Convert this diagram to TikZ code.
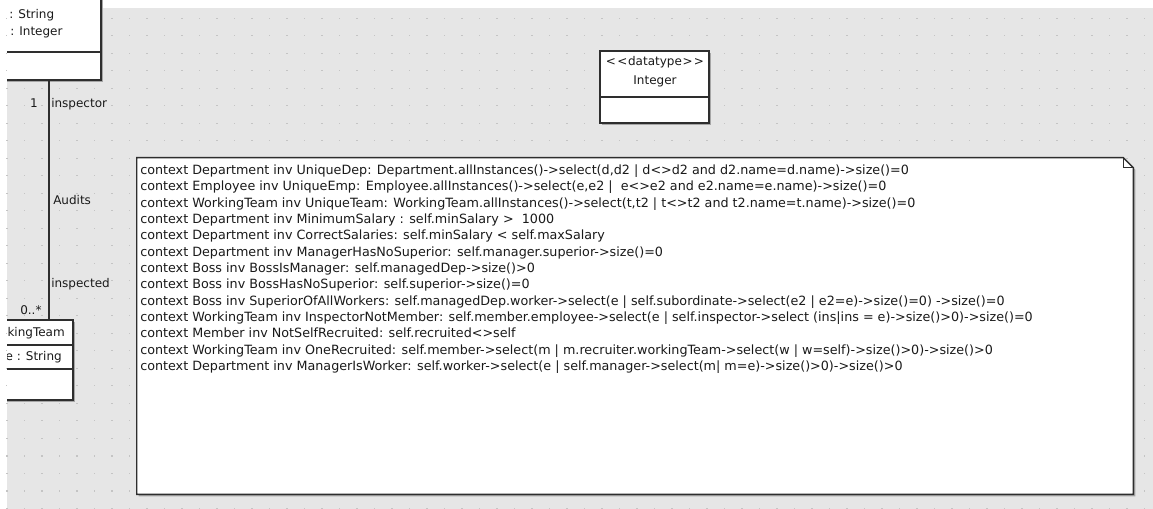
\documentclass[tikz,border=0pt]{standalone}
\usepackage{fontspec}
\newfontfamily\umlfont{DejaVu Sans}
\usetikzlibrary{fit,calc}
\definecolor{canvas}{HTML}{E6E6E6}
\definecolor{griddot}{HTML}{C4C4C4}
\definecolor{edgecol}{HTML}{2E2E2E}
\definecolor{shade}{HTML}{A6A6A6}
\definecolor{inkcol}{HTML}{1A1A1A}
\begin{document}
\begin{tikzpicture}[x=0.75pt,y=-0.75pt,
  font=\umlfont\fontsize{9}{11}\selectfont,
  every node/.style={text=inkcol},
  umlbox/.style={draw=edgecol,line width=1.1pt,fill=white,inner sep=0pt},
  shadowbox/.style={fill=shade},
  lbl/.style={inner sep=0pt},
  oclline/.style={inner sep=0pt,anchor=base west,font=\umlfont\fontsize{9.55}{11}\selectfont}]
\useasboundingbox (0,0) rectangle (1153,509);
\fill[white] (0,0) rectangle (1153,509);
\fill[canvas] (7,8) rectangle (1153,509);
\foreach \i in {0,...,65}{
  \foreach \j in {0,...,28}{
    \fill[griddot] ({6.8+17.5*\i-0.7},{18.3+17.5*\j-0.7}) rectangle ++(1.4,1.4);
  }
}
\begin{scope}
\clip (7,0) rectangle (1153,509);
% class cut off at top-left
\fill[shadowbox] (-18,-18) rectangle (103,82);
\node[umlbox,fit={(-20,-20) (101,80)}] (dept) {};
\draw[edgecol,line width=0.9pt] (dept.west |- 0,52) -- (dept.east |- 0,52);
\node[lbl,anchor=base west] (deptattA) at (9,19) {: String};
\node[lbl,anchor=base west] (deptattB) at (10,36) {: Integer};
% WorkingTeam class cut off at left
\fill[shadowbox] (-18,322) rectangle (75,402);
\node[umlbox,fit={(-20,320) (73,400)}] (team) {};
\draw[edgecol,line width=0.9pt] (team.west |- 0,345) -- (team.east |- 0,345);
\draw[edgecol,line width=0.9pt] (team.west |- 0,369) -- (team.east |- 0,369);
\node[lbl,anchor=base east] (teamname) at (65,337) {kingTeam};
\node[lbl,anchor=base east] (teamatt) at (62,361) {e : String};
% association
\coordinate (assocx) at (49,0);
\draw[edgecol,line width=0.9pt] (assocx |- dept.south) -- (assocx |- team.north);
\node[lbl,anchor=base] (multA) at (34,108) {1};
\node[lbl,anchor=base west] (roleA) at (51,108) {inspector};
\node[lbl,anchor=base west] (assocname) at (53,205) {Audits};
\node[lbl,anchor=base west] (roleB) at (51,288) {inspected};
\node[lbl,anchor=base west] (multB) at (20,315) {0..*};
\end{scope}
% Integer datatype
\fill[shadowbox] (602,53) rectangle (711,125);
\node[umlbox,fit={(600,51) (709,123)}] (intbox) {};
\draw[edgecol,line width=0.9pt] (intbox.west |- 0,97) -- (intbox.east |- 0,97);
\node[lbl,anchor=base] (intster) at (655,66) {<\kern1pt<\kern0.5pt datatype\kern0.5pt>\kern1pt>};
\node[lbl,anchor=base] (intname) at (655,85) {Integer};
% OCL note
\node[inner sep=0pt,fit={(137,158) (1133,494)}] (note) {};
\fill[shadowbox] ($(note.north west)+(2,2)$) -- ($(note.north east)+(-8,2)$) -- ($(note.north east)+(2,12)$) -- ($(note.south east)+(2,2)$) -- ($(note.south west)+(2,2)$) -- cycle;
\draw[edgecol,line width=1.1pt,fill=white] (note.north west) -- ($(note.north east)+(-10,0)$) -- ($(note.north east)+(0,10)$) -- (note.south east) -- (note.south west) -- cycle;
\draw[edgecol,line width=0.8pt] ($(note.north east)+(-10,0)$) -- ($(note.north east)+(-10,10)$) -- ($(note.north east)+(0,10)$);
\node[oclline] (l1) at (140,174.5) {context Department inv UniqueDep: Department.allInstances()->select(d,d2 | d<>d2 and d2.name=d.name)->size()=0};
\node[oclline] (l2) at (140,190.8) {context Employee inv UniqueEmp: Employee.allInstances()->select(e,e2 |\ \ e<>e2 and e2.name=e.name)->size()=0};
\node[oclline] (l3) at (140,207.2) {context WorkingTeam inv UniqueTeam: WorkingTeam.allInstances()->select(t,t2 | t<>t2 and t2.name=t.name)->size()=0};
\node[oclline] (l4) at (140,223.5) {context Department inv MinimumSalary : self.minSalary >\ \ 1000};
\node[oclline] (l5) at (140,239.9) {context Department inv CorrectSalaries: self.minSalary < self.maxSalary};
\node[oclline] (l6) at (140,256.2) {context Department inv ManagerHasNoSuperior: self.manager.superior->size()=0};
\node[oclline] (l7) at (140,272.6) {context Boss inv BossIsManager: self.managedDep->size()>0};
\node[oclline] (l8) at (140,288.9) {context Boss inv BossHasNoSuperior: self.superior->size()=0};
\node[oclline] (l9) at (140,305.3) {context Boss inv SuperiorOfAllWorkers: self.managedDep.worker->select(e | self.subordinate->select(e2 | e2=e)->size()=0) ->size()=0};
\node[oclline] (l10) at (140,321.6) {context WorkingTeam inv InspectorNotMember: self.member.employee->select(e | self.inspector->select (ins|ins = e)->size()>0)->size()=0};
\node[oclline] (l11) at (140,338.0) {context Member inv NotSelfRecruited: self.recruited<>self};
\node[oclline] (l12) at (140,354.3) {context WorkingTeam inv OneRecruited: self.member->select(m | m.recruiter.workingTeam->select(w | w=self)->size()>0)->size()>0};
\node[oclline] (l13) at (140,370.7) {context Department inv ManagerIsWorker: self.worker->select(e | self.manager->select(m| m=e)->size()>0)->size()>0};
\end{tikzpicture}
\end{document}
